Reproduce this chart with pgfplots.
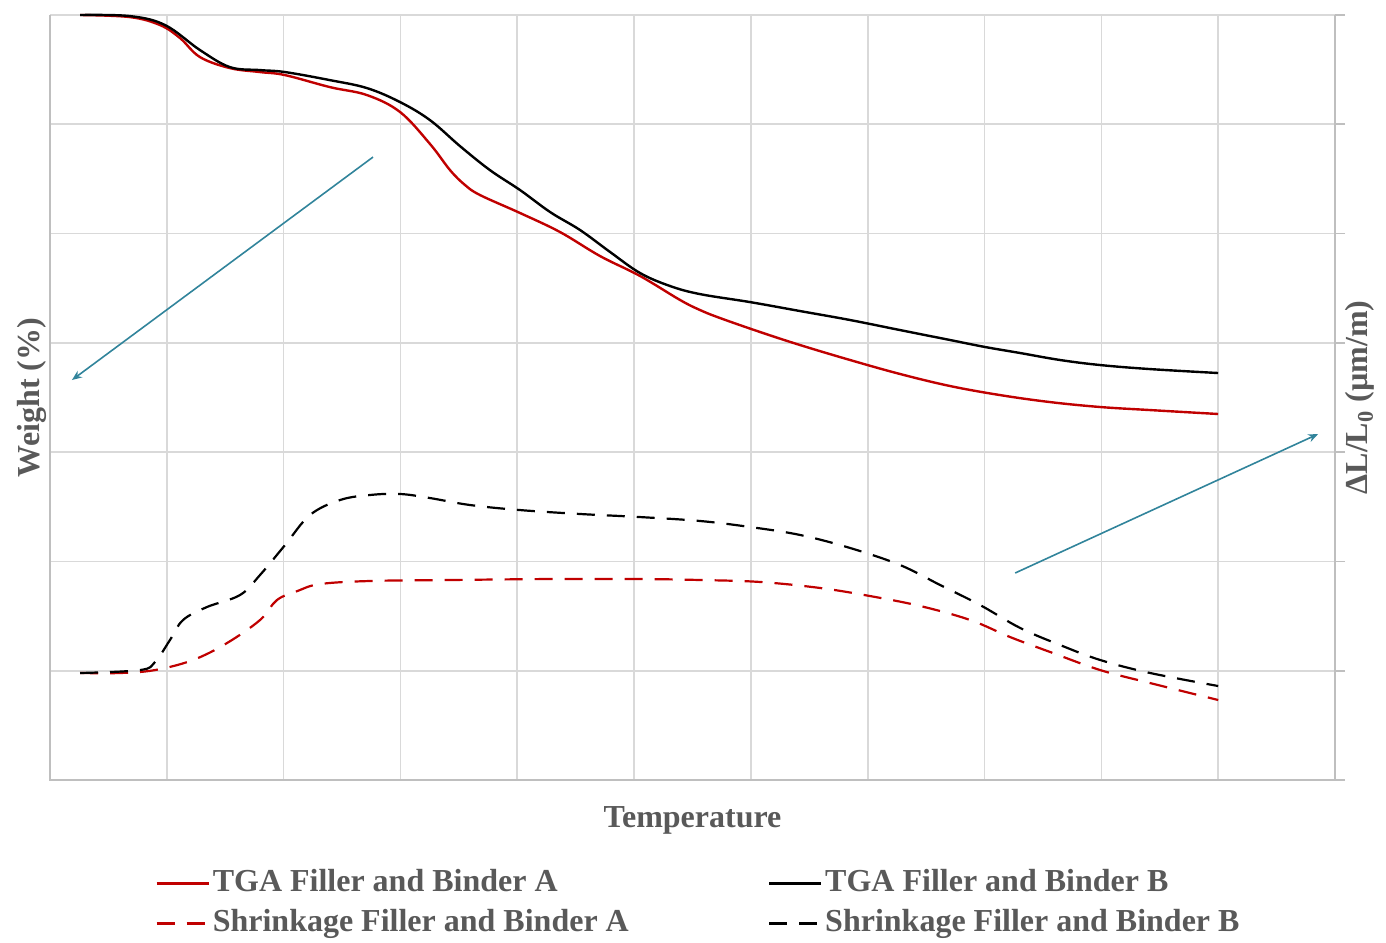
\documentclass[border=0pt]{standalone}
\usepackage{fontspec}
\setmainfont{Liberation Serif}
\usepackage{pgfplots}
\pgfplotsset{compat=1.18}
\usetikzlibrary{arrows.meta}

\definecolor{tgared}{HTML}{C00000}
\definecolor{gridgray}{HTML}{D9D9D9}
\definecolor{axisgray}{HTML}{BFBFBF}
\definecolor{txtgray}{HTML}{595959}
\definecolor{arrowblue}{HTML}{31849B}

\begin{document}
\begin{tikzpicture}
  % page frame (1px = 0.5pt)
  \path[use as bounding box] (-25pt,-81pt) rectangle (668pt,390pt);
  \begin{axis}[
    at={(0pt,0pt)}, anchor=south west,
    scale only axis, width=642.5pt, height=382.5pt,
    xmin=0, xmax=11, ymin=0, ymax=7,
    xtick={0,...,11}, ytick={0,...,7},
    xticklabels={}, yticklabels={},
    grid=major, major grid style={gridgray, line width=0.8pt},
    axis line style={draw=none},
    ytick pos=right, tick align=outside,
    xtick style={draw=none},
    ytick style={axisgray, line width=0.8pt},
    major tick length=5pt,
    clip=false,
    legend columns=2,
    legend cell align=left,
    legend image code/.code={\draw[#1] (0pt,0pt) -- (26pt,0pt);},
    legend style={draw=none, fill=none, inner sep=0pt,
      at={(0.0817,-0.11)}, anchor=north west,
      font=\fontsize{16}{19}\selectfont\bfseries, text=txtgray,
      nodes={inner sep=1.5pt, text height=12pt, text depth=4pt},
      row sep=1pt,
      /tikz/every even column/.append style={column sep=68pt}},
    tga/.style={line width=1.2pt, smooth, tension=0.6},
    shr/.style={line width=1.1pt, smooth, tension=0.6, dash pattern=on 9pt off 6pt},
  ]
  % TGA A
  \addplot[tgared, tga] coordinates {
    (0.257,7.000) (0.685,6.981) (0.942,6.908) (1.113,6.789) (1.284,6.615)
    (1.541,6.514) (1.798,6.478) (2.012,6.450) (2.397,6.340)
    (2.714,6.267) (2.997,6.112) (3.253,5.820) (3.425,5.580) (3.553,5.444)
    (3.682,5.352) (4.024,5.188) (4.366,5.014) (4.709,4.794) (5.051,4.612)
    (5.394,4.392) (5.565,4.300) (5.736,4.227) (6.079,4.099) (6.421,3.980)
    (6.849,3.843) (7.277,3.715) (7.705,3.605) (8.134,3.522) (8.562,3.458)
    (8.990,3.413) (9.418,3.385) (10.000,3.349)};
  \addlegendentry{TGA Filler and Binder A}
  % TGA B
  \addplot[black, tga] coordinates {
    (0.257,7.000) (0.685,6.990) (0.985,6.908) (1.284,6.679)
    (1.541,6.523) (1.798,6.496) (2.012,6.478) (2.397,6.404)
    (2.714,6.331) (2.997,6.203) (3.253,6.038) (3.510,5.800)
    (3.767,5.580) (4.024,5.398) (4.281,5.197) (4.538,5.032) (4.795,4.831)
    (5.051,4.639) (5.308,4.520) (5.565,4.446) (5.993,4.373) (6.421,4.291)
    (6.849,4.209) (7.277,4.117) (7.705,4.026) (8.005,3.962) (8.305,3.907)
    (8.647,3.843) (8.990,3.797) (9.418,3.760) (10.000,3.724)};
  \addlegendentry{TGA Filler and Binder B}
  % Shrinkage A
  \addplot[tgared, shr] coordinates {
    (0.257,0.979) (0.599,0.979) (0.899,1.006) (1.224,1.098) (1.515,1.253)
    (1.798,1.464) (1.943,1.647) (2.120,1.730) (2.312,1.793) (2.740,1.821)
    (3.425,1.830) (4.281,1.839) (5.051,1.839) (5.565,1.830) (6.079,1.812)
    (6.592,1.757) (7.021,1.683) (7.449,1.592) (7.877,1.464) (8.219,1.308)
    (8.562,1.171) (8.990,1.006) (9.418,0.887) (10.000,0.732)};
  \addlegendentry{Shrinkage Filler and Binder A}
  % Shrinkage B
  \addplot[black, shr] coordinates {
    (0.257,0.979) (0.771,1.006) (0.899,1.080) (1.027,1.281) (1.139,1.464)
    (1.344,1.583) (1.627,1.693) (1.798,1.876) (2.012,2.150) (2.226,2.425)
    (2.483,2.562) (2.740,2.608) (2.997,2.617) (3.253,2.580) (3.596,2.516)
    (4.024,2.470) (4.538,2.434) (5.051,2.406) (5.565,2.370) (5.993,2.315)
    (6.421,2.242) (6.849,2.123) (7.277,1.967) (7.620,1.784) (7.962,1.601)
    (8.305,1.391) (8.647,1.235) (8.990,1.098) (9.418,0.979) (10.000,0.860)};
  \addlegendentry{Shrinkage Filler and Binder B}

  % axis frame (left, bottom, right)
  \draw[axisgray, line width=0.9pt] (rel axis cs:0,1) -- (rel axis cs:0,0)
    -- (rel axis cs:1,0) -- (rel axis cs:1,1);
  % pointer arrows
  \draw[arrowblue, line width=0.8pt, -{Stealth[length=5pt,width=4pt]}]
    (axis cs:2.765,5.700) -- (axis cs:0.188,3.660);
  \draw[arrowblue, line width=0.8pt, -{Stealth[length=5pt,width=4pt]}]
    (axis cs:8.262,1.894) -- (axis cs:10.856,3.166);
  % axis titles
  \node[font=\fontsize{16}{19}\selectfont\bfseries, text=txtgray]
    at ([yshift=-20pt]rel axis cs:0.5,0) {Temperature};
  \node[font=\fontsize{16}{19}\selectfont\bfseries, text=txtgray, rotate=90]
    at ([xshift=-9pt]rel axis cs:0,0.5) {Weight (\%)};
  \node[font=\fontsize{16}{19}\selectfont\bfseries, text=txtgray, rotate=90]
    at ([xshift=12.5pt]rel axis cs:1,0.5) {ΔL/L\textsubscript{0} (µm/m)};
  \end{axis}
\end{tikzpicture}
\end{document}
